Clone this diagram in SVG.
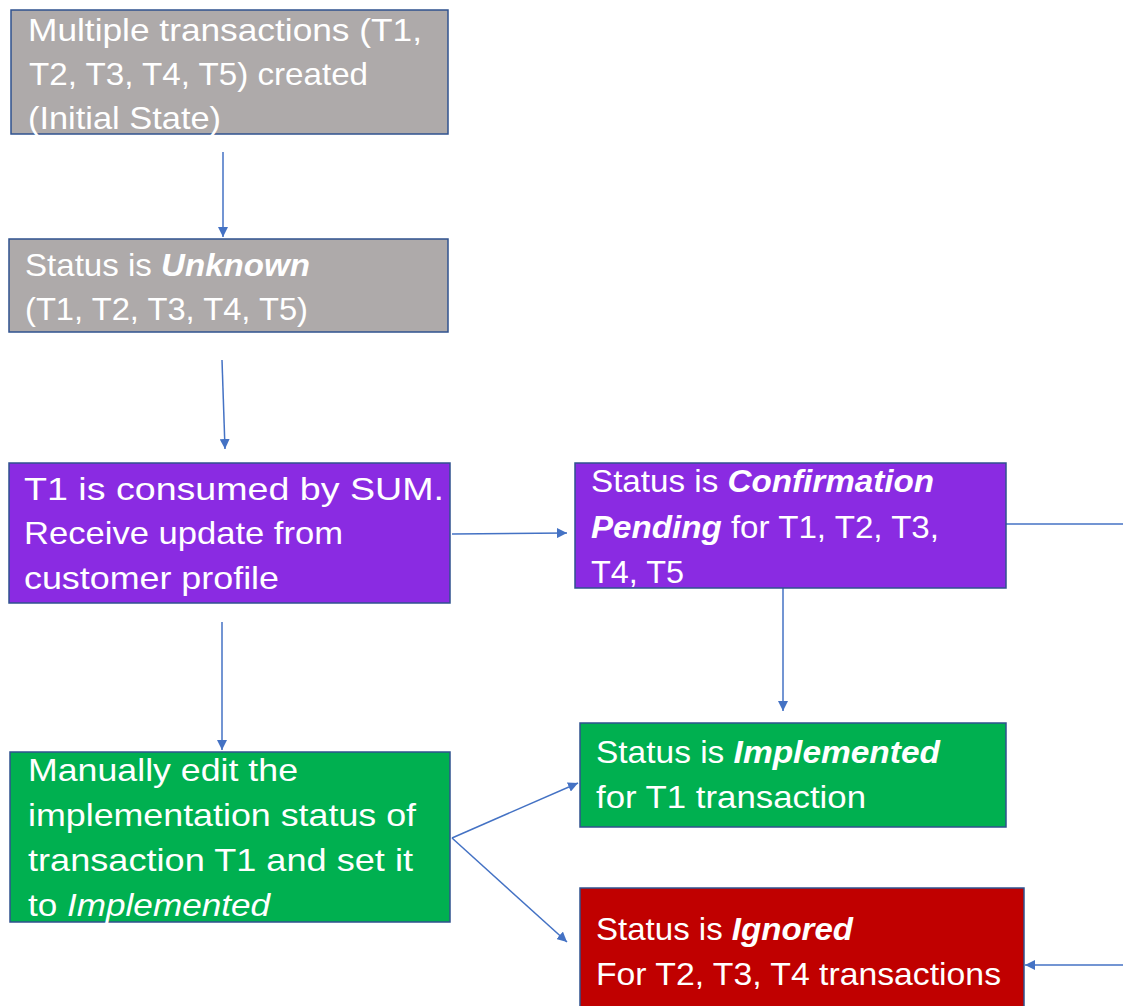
<svg xmlns="http://www.w3.org/2000/svg" width="1123" height="1006" viewBox="0 0 1123 1006">
<defs>
<style>
.box{stroke:#2F528F;stroke-width:1.5}
.gray{fill:#AEAAAA}
.purple{fill:#8A2BE2}
.green{fill:#00B050}
.red{fill:#C00000}
text{font-family:"Liberation Sans",Arial,sans-serif;font-size:32px;fill:#FFFFFF}
.bi{font-weight:bold;font-style:italic}
.i{font-style:italic}
.conn{stroke:#4472C4;stroke-width:1.5;fill:none}
</style>
<marker id="ah" viewBox="0 0 10 10" refX="10" refY="5" markerWidth="10" markerHeight="10" markerUnits="userSpaceOnUse" orient="auto">
<path d="M0,0 L10,5 L0,10 z" fill="#4472C4"/>
</marker>
</defs>
<rect width="1123" height="1006" fill="#FFFFFF"/>
<g id="connectors">
<line class="conn" x1="223" y1="152" x2="223" y2="237" marker-end="url(#ah)"/>
<line class="conn" x1="222" y1="360" x2="225" y2="449" marker-end="url(#ah)"/>
<line class="conn" x1="452" y1="534" x2="567" y2="533" marker-end="url(#ah)"/>
<line class="conn" x1="222" y1="622" x2="222" y2="750" marker-end="url(#ah)"/>
<line class="conn" x1="783" y1="588" x2="783" y2="711" marker-end="url(#ah)"/>
<line class="conn" x1="452" y1="838" x2="578" y2="783" marker-end="url(#ah)"/>
<line class="conn" x1="452" y1="838" x2="567" y2="942" marker-end="url(#ah)"/>
<line class="conn" x1="1006" y1="524" x2="1123" y2="524"/>
<line class="conn" x1="1123" y1="965" x2="1025" y2="965" marker-end="url(#ah)"/>
</g>
<g id="node-initial">
<rect class="box gray" x="11" y="10" width="437" height="124"/>
<text x="28" y="41" textLength="394" lengthAdjust="spacingAndGlyphs">Multiple transactions (T1,</text>
<text x="29" y="85" textLength="339" lengthAdjust="spacingAndGlyphs">T2, T3, T4, T5) created</text>
<text x="28" y="129" textLength="193" lengthAdjust="spacingAndGlyphs">(Initial State)</text>
</g>
<g id="node-unknown">
<rect class="box gray" x="9" y="239" width="439" height="93"/>
<text x="25" y="276" textLength="285" lengthAdjust="spacingAndGlyphs">Status is <tspan class="bi">Unknown</tspan></text>
<text x="25" y="320" textLength="283" lengthAdjust="spacingAndGlyphs">(T1, T2, T3, T4, T5)</text>
</g>
<g id="node-consumed">
<rect class="box purple" x="9" y="463" width="441" height="140"/>
<text x="24" y="500" textLength="420" lengthAdjust="spacingAndGlyphs">T1 is consumed by SUM.</text>
<text x="24" y="544" textLength="319" lengthAdjust="spacingAndGlyphs">Receive update from</text>
<text x="24" y="589" textLength="255" lengthAdjust="spacingAndGlyphs">customer profile</text>
</g>
<g id="node-pending">
<rect class="box purple" x="575" y="463" width="431" height="125"/>
<text x="591" y="492" textLength="343" lengthAdjust="spacingAndGlyphs">Status is <tspan class="bi">Confirmation</tspan></text>
<text x="591" y="538" textLength="348" lengthAdjust="spacingAndGlyphs"><tspan class="bi">Pending</tspan> for T1, T2, T3,</text>
<text x="591" y="583" textLength="93" lengthAdjust="spacingAndGlyphs">T4, T5</text>
</g>
<g id="node-manual">
<rect class="box green" x="10" y="752" width="440" height="170"/>
<text x="28" y="781" textLength="270" lengthAdjust="spacingAndGlyphs">Manually edit the</text>
<text x="28" y="826" textLength="388" lengthAdjust="spacingAndGlyphs">implementation status of</text>
<text x="28" y="871" textLength="385" lengthAdjust="spacingAndGlyphs">transaction T1 and set it</text>
<text x="28" y="916" textLength="242" lengthAdjust="spacingAndGlyphs">to <tspan class="i">Implemented</tspan></text>
</g>
<g id="node-implemented">
<rect class="box green" x="580" y="723" width="426" height="104"/>
<text x="596" y="763" textLength="344" lengthAdjust="spacingAndGlyphs">Status is <tspan class="bi">Implemented</tspan></text>
<text x="596" y="808" textLength="270" lengthAdjust="spacingAndGlyphs">for T1 transaction</text>
</g>
<g id="node-ignored">
<rect class="box red" x="580" y="888" width="444" height="124"/>
<text x="596" y="940" textLength="257" lengthAdjust="spacingAndGlyphs">Status is <tspan class="bi">Ignored</tspan></text>
<text x="596" y="985" textLength="405" lengthAdjust="spacingAndGlyphs">For T2, T3, T4 transactions</text>
</g>
</svg>
